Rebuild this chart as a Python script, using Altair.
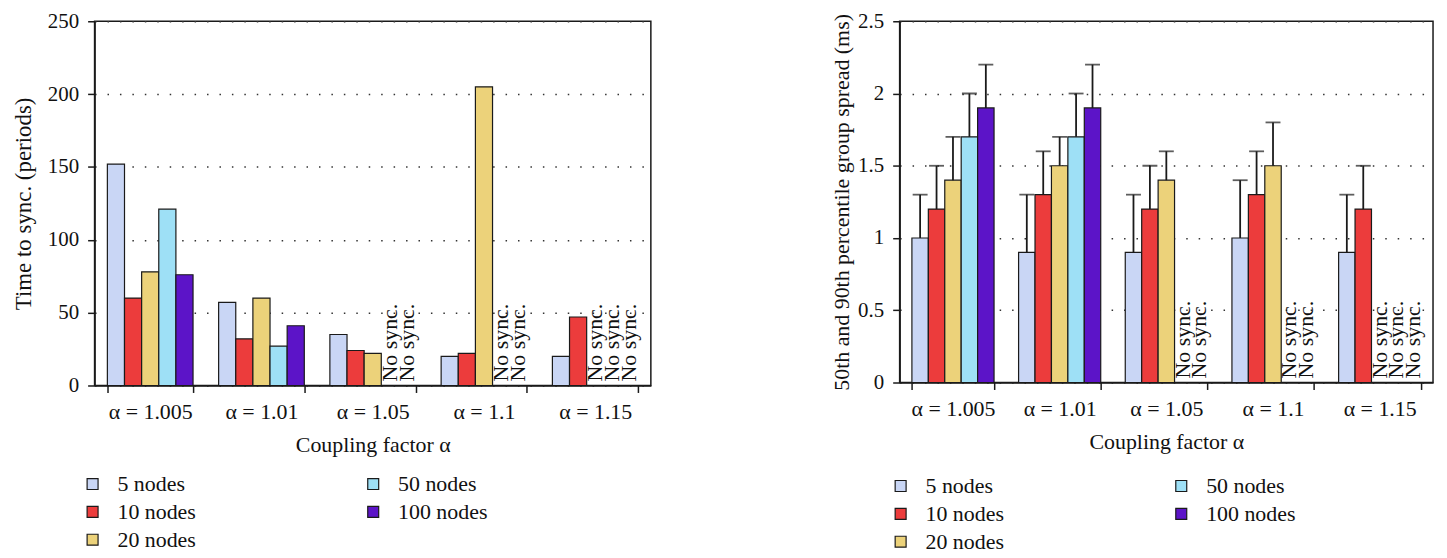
import altair as alt
import pandas as pd

FONT = "Liberation Serif"

alphas = ["α = 1.005", "α = 1.01", "α = 1.05", "α = 1.1", "α = 1.15"]
series = ["5 nodes", "10 nodes", "20 nodes", "50 nodes", "100 nodes"]
series_colors = ["#c9d6f5", "#ec3c3c", "#ecd27a", "#9ee0f6", "#5c14c8"]

# Left panel: time to sync (periods); None = "No sync."
time_5 = [152, 57, 35, 20, 20]
time_10 = [60, 32, 24, 22, 47]
time_20 = [78, 60, 22, 205, None]
time_50 = [121, 27, None, None, None]
time_100 = [76, 41, None, None, None]

# Right panel: 50th percentile spread (bar) and 90th percentile (whisker top), ms
spread_5 = [1.0, 0.9, 0.9, 1.0, 0.9]
spread_10 = [1.2, 1.3, 1.2, 1.3, 1.2]
spread_20 = [1.4, 1.5, 1.4, 1.5, None]
spread_50 = [1.7, 1.7, None, None, None]
spread_100 = [1.9, 1.9, None, None, None]

upper_5 = [1.3, 1.3, 1.3, 1.4, 1.3]
upper_10 = [1.5, 1.6, 1.5, 1.6, 1.5]
upper_20 = [1.7, 1.7, 1.6, 1.8, None]
upper_50 = [2.0, 2.0, None, None, None]
upper_100 = [2.2, 2.2, None, None, None]

no_sync_text = "No sync."

left_ticks = [0, 50, 100, 150, 200, 250]
right_ticks = [0, 0.5, 1, 1.5, 2, 2.5]


def build(values_by_series, uppers_by_series=None):
    rows = []
    for si, s in enumerate(series):
        vals = values_by_series[si]
        ups = uppers_by_series[si] if uppers_by_series else [None] * len(alphas)
        for ai, a in enumerate(alphas):
            rows.append({
                "alpha": a,
                "series": s,
                "value": vals[ai],
                "upper": ups[ai],
                "zero": 0,
                "label": no_sync_text if vals[ai] is None else "",
            })
    return pd.DataFrame(rows)


left_df = build([time_5, time_10, time_20, time_50, time_100])
right_df = build([spread_5, spread_10, spread_20, spread_50, spread_100],
                 [upper_5, upper_10, upper_20, upper_50, upper_100])


def panel(df, ytitle, ticks, fmt, title_size, title_pad, width, height,
          legend_x, legend_y, with_errors):
    x = alt.X("alpha:N", sort=alphas,
              scale=alt.Scale(domain=alphas, paddingInner=0.23, paddingOuter=0.115),
              axis=alt.Axis(title="Coupling factor α", labelAngle=0, tickBand="extent",
                            tickSize=7, labelPadding=9, titlePadding=12,
                            labelFontSize=22, titleFontSize=22))
    xo = alt.XOffset("series:N", sort=series,
                     scale=alt.Scale(domain=series, paddingInner=0, paddingOuter=0))
    yscale = alt.Scale(domain=[ticks[0], ticks[-1]], nice=False)
    yaxis = alt.Axis(title=ytitle, values=ticks, format=fmt, tickSize=7,
                     labelPadding=9, titlePadding=title_pad, titleFontSize=title_size,
                     titleLimit=600,
                     grid=True, gridDash=[1.5, 11], gridColor="#333", gridWidth=1.5)

    bars = alt.Chart(df).transform_filter("datum.value != null").mark_bar(
        stroke="#1a1a1a", strokeWidth=1.2
    ).encode(
        x=x, xOffset=xo,
        y=alt.Y("value:Q", scale=yscale, axis=yaxis),
        color=alt.Color("series:N",
                        scale=alt.Scale(domain=series, range=series_colors),
                        legend=alt.Legend(title=None, orient="none",
                                          legendX=legend_x, legendY=legend_y,
                                          columns=2, columnPadding=167, rowPadding=6,
                                          symbolType="square", symbolSize=121,
                                          symbolStrokeColor="#1a1a1a",
                                          symbolStrokeWidth=1.2,
                                          labelFont=FONT, labelFontSize=22,
                                          labelColor="#111", labelOffset=14)),
    )

    texts = alt.Chart(df).transform_filter("datum.value == null").mark_text(
        angle=270, align="left", baseline="middle", font=FONT, fontSize=22,
        color="#111", dx=4
    ).encode(x=x, xOffset=xo, y=alt.Y("zero:Q", scale=yscale), text="label:N")

    layers = [bars, texts]
    if with_errors:
        err = alt.Chart(df).transform_filter("datum.upper != null").mark_rule(
            color="#1a1a1a", strokeWidth=1.8, xOffset=-3
        ).encode(x=x, xOffset=xo, y=alt.Y("value:Q", scale=yscale), y2="upper:Q")
        cap = alt.Chart(df).transform_filter("datum.upper != null").mark_tick(
            color="#1a1a1a", thickness=1.8, size=15, xOffset=-3
        ).encode(x=x, xOffset=xo, y=alt.Y("upper:Q", scale=yscale))
        layers = [bars, err, cap, texts]

    return alt.layer(*layers).properties(width=width, height=height)


left = panel(left_df, "Time to sync. (periods)", left_ticks, "d", 23, 12,
             559, 366, -13, 454, False)
right = panel(right_df, "50th and 90th percentile group spread (ms)", right_ticks, "~g",
              22, 4, 536, 363, -10, 456, True)

chart = alt.hconcat(left, right, spacing=250, bounds="flush").resolve_scale(
    color="independent", y="independent", x="independent", xOffset="independent"
).properties(
    padding={"left": 3, "top": 0, "right": 5, "bottom": 0}
).configure_view(
    stroke="#1a1a1a", strokeWidth=1.5
).configure_axis(
    labelFont=FONT, titleFont=FONT, labelFontSize=21, titleFontSize=22,
    titleFontWeight="normal", labelColor="#111", titleColor="#111",
    domainColor="#1a1a1a", tickColor="#1a1a1a", domainWidth=1.5, tickWidth=1.5
).configure_legend(
    labelFont=FONT, labelFontSize=22, labelColor="#111"
)

chart.save("out.html", embed_options={"renderer": "svg", "actions": False})
